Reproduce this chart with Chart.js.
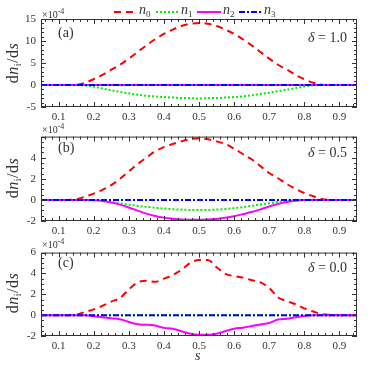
<!DOCTYPE html>
<html>
<head>
<meta charset="utf-8">
<script src="https://cdn.jsdelivr.net/npm/chart.js@4.4.1/dist/chart.umd.min.js"></script>
<style>
  body { margin: 0; background: #fff; }
  #wrap { position: relative; width: 374px; height: 365px; font-family: "Liberation Serif", "DejaVu Serif", serif; color: #333; }
  canvas { position: absolute; left: 0; }
  .lbl { position: absolute; white-space: nowrap; line-height: 1; }
  .it { font-style: italic; }
  .ytitle { position: absolute; white-space: nowrap; line-height: 1; font-size: 16px; letter-spacing: 0.5px; transform: translate(-50%, -50%) rotate(-90deg); }
  .tag { font-size: 14px; }
  .mult { font-size: 10px; }
  .mult sup { font-size: 8px; vertical-align: 4px; }
  sub { font-size: 9px; vertical-align: -3px; font-style: normal; }
  .ytitle sub { font-size: 10px; }
  .leg svg { position: absolute; }
</style>
</head>
<body>
<div id="wrap">
  <canvas id="panelA" width="374" height="125" style="top:0px"></canvas>
  <canvas id="panelB" width="374" height="116" style="top:125px"></canvas>
  <canvas id="panelC" width="374" height="124" style="top:241px"></canvas>

  <!-- legenda -->
  <div class="leg">
    <svg style="left:114px;top:9px" width="20" height="6"><line x1="0" y1="3" x2="20" y2="3" stroke="#ff0000" stroke-width="2" stroke-dasharray="7,5"/></svg>
    <div class="lbl it" style="left:139px;top:3px;font-size:14px">n<sub>0</sub></div>
    <svg style="left:156px;top:9px" width="23" height="6"><line x1="0" y1="3" x2="23" y2="3" stroke="#00ee00" stroke-width="2" stroke-dasharray="2,2"/></svg>
    <div class="lbl it" style="left:181px;top:3px;font-size:14px">n<sub>1</sub></div>
    <svg style="left:197px;top:9px" width="24" height="6"><line x1="0" y1="3" x2="24" y2="3" stroke="#ff00ff" stroke-width="2"/></svg>
    <div class="lbl it" style="left:223px;top:3px;font-size:14px">n<sub>2</sub></div>
    <svg style="left:239px;top:9px" width="24" height="6"><line x1="0" y1="3" x2="24" y2="3" stroke="#0000ff" stroke-width="2" stroke-dasharray="6,2,2,2"/></svg>
    <div class="lbl it" style="left:264px;top:3px;font-size:14px">n<sub>3</sub></div>
  </div>

  <!-- titulos eixo y -->
  <div class="ytitle" style="left:14px;top:63px">d<span class="it">n<sub>i</sub></span>/d<span class="it">s</span></div>
  <div class="ytitle" style="left:14px;top:178px">d<span class="it">n<sub>i</sub></span>/d<span class="it">s</span></div>
  <div class="ytitle" style="left:14px;top:293px">d<span class="it">n<sub>i</sub></span>/d<span class="it">s</span></div>

  <!-- multiplicador -->
  <div class="lbl mult" style="left:42px;top:8px">×10<sup>-4</sup></div>
  <div class="lbl mult" style="left:42px;top:123px">×10<sup>-4</sup></div>
  <div class="lbl mult" style="left:42px;top:238px">×10<sup>-4</sup></div>

  <!-- painel e delta -->
  <div class="lbl tag" style="left:58px;top:26px">(a)</div>
  <div class="lbl tag" style="left:58px;top:141px">(b)</div>
  <div class="lbl tag" style="left:58px;top:256px">(c)</div>
  <div class="lbl tag" style="right:27px;top:31px"><span class="it">δ</span> = 1.0</div>
  <div class="lbl tag" style="right:27px;top:146px"><span class="it">δ</span> = 0.5</div>
  <div class="lbl tag" style="right:27px;top:261px"><span class="it">δ</span> = 0.0</div>

  <div class="lbl it" style="left:195px;top:349px;font-size:14px">s</div>
</div>

<script>
// grade de s e ticks
const sGrid = [0.05, 0.075, 0.1, 0.125, 0.15, 0.175, 0.2, 0.225, 0.25, 0.275, 0.3, 0.325, 0.35, 0.375, 0.4, 0.425, 0.45, 0.475, 0.5,
  0.525, 0.55, 0.575, 0.6, 0.625, 0.65, 0.675, 0.7, 0.725, 0.75, 0.775, 0.8, 0.825, 0.85, 0.875, 0.9, 0.925, 0.95]
const sEnds = [0.05, 0.95]
const zeroLine = [0, 0]
const xTicks = [0.1, 0.2, 0.3, 0.4, 0.5, 0.6, 0.7, 0.8, 0.9]
const yTicksA = [-5, 0, 5, 10, 15]
const yTicksB = [-2, 0, 2, 4]
const yTicksC = [-2, 0, 2, 4, 6]

// (a) delta = 1.0, valores em 1e-4
const n0A = [0, 0, 0, 0, 0.05, 0.5, 1.3, 2.3, 3.5, 4.6, 6.0, 7.5, 9.0, 10.4, 11.6, 12.6, 13.4, 13.9, 14.1,
  13.9, 13.4, 12.6, 11.6, 10.4, 9.0, 7.5, 6.0, 4.6, 3.5, 2.3, 1.3, 0.5, 0.05, 0, 0, 0, 0]
const n1A = [0, 0, 0, 0, 0, -0.1, -0.4, -0.8, -1.2, -1.55, -1.9, -2.2, -2.45, -2.6, -2.75, -2.85, -2.95, -3.0, -3.05,
  -3.0, -2.95, -2.85, -2.75, -2.6, -2.35, -2.05, -1.75, -1.4, -1.1, -0.7, -0.35, -0.08, 0, 0, 0, 0, 0]

// (b) delta = 0.5
const n0B = [0, 0, 0, 0, 0.05, 0.3, 0.6, 0.95, 1.4, 2.0, 2.7, 3.4, 4.0, 4.6, 5.0, 5.3, 5.55, 5.75, 5.85,
  5.75, 5.55, 5.3, 4.85, 4.35, 3.85, 3.2, 2.55, 2.05, 1.5, 1.05, 0.65, 0.35, 0.08, 0, 0, 0, 0]
const n1B = [0, 0, 0, 0, 0, 0, 0, -0.05, -0.2, -0.33, -0.45, -0.57, -0.66, -0.74, -0.82, -0.88, -0.92, -0.95, -0.95,
  -0.95, -0.92, -0.87, -0.78, -0.68, -0.56, -0.43, -0.32, -0.2, -0.08, 0, 0, 0, 0, 0, 0, 0, 0]
const n2B = [0, 0, 0, 0, 0, 0, -0.03, -0.1, -0.25, -0.45, -0.72, -1.02, -1.3, -1.52, -1.68, -1.78, -1.85, -1.88, -1.88,
  -1.86, -1.8, -1.7, -1.55, -1.35, -1.15, -0.9, -0.62, -0.38, -0.2, -0.08, -0.02, 0, 0, 0, 0, 0, 0]

// (c) delta = 0.0
const n0C = [0, 0, 0, 0, 0.05, 0.3, 0.55, 0.9, 1.3, 1.65, 2.45, 3.15, 3.3, 3.2, 3.5, 3.85, 4.35, 5.0, 5.3,
  5.3, 4.6, 3.95, 3.75, 3.6, 3.35, 3.15, 2.6, 1.7, 1.35, 1.05, 0.65, 0.35, 0.1, 0.03, 0, 0, 0]
const n2C = [0, 0, 0, 0, 0, 0, -0.1, -0.2, -0.3, -0.4, -0.65, -0.88, -0.92, -1.0, -1.22, -1.3, -1.55, -1.78, -1.88,
  -1.88, -1.78, -1.55, -1.3, -1.2, -1.05, -0.9, -0.75, -0.42, -0.35, -0.2, -0.08, 0, 0, 0, 0, 0, 0]

const red = "#ff0000"
const green = "#00ee00"
const magenta = "#ff00ff"
const blue = "#0000ff"
const axisColor = "#333"
const tickFont = { family: "Liberation Serif", size: 11 }

document.addEventListener("DOMContentLoaded", function() {
  panelChart("panelA", 19, 18, -5, 15, yTicksA, 5, 1, [
    line(sGrid, n0A, red, [7, 5], 3),
    line(sGrid, n1A, green, [2, 2], 2),
    line(sEnds, zeroLine, magenta, [], 1),
    line(sEnds, zeroLine, blue, [6, 2, 2, 2], 0),
  ])
  panelChart("panelB", 9, 20, -2, 6, yTicksB, 2, 0.5, [
    line(sGrid, n0B, red, [7, 5], 3),
    line(sGrid, n1B, green, [2, 2], 2),
    line(sGrid, n2B, magenta, [], 1),
    line(sEnds, zeroLine, blue, [6, 2, 2, 2], 0),
  ])
  panelChart("panelC", 10, 29, -2, 6, yTicksC, 2, 0.5, [
    line(sGrid, n0C, red, [7, 5], 3),
    line(sEnds, zeroLine, green, [2, 2], 2),
    line(sGrid, n2C, magenta, [], 1),
    line(sEnds, zeroLine, blue, [6, 2, 2, 2], 0),
  ])
})

function line(xs, ys, color, dash, order) {
  return {
    data: xs.map((s, i) => ({ x: s, y: ys[i] })),
    borderColor: color,
    borderWidth: 2,
    borderDash: dash,
    pointRadius: 0,
    fill: false,
    cubicInterpolationMode: "monotone",
    order: order
  }
}

// moldura com ticks para dentro, nos quatro lados
const frameTicks = {
  id: "frameTicks",
  afterDraw(chart, args, opts) {
    const { ctx, chartArea: a, scales: { x, y } } = chart
    ctx.save()
    ctx.strokeStyle = axisColor
    ctx.lineWidth = 1
    ctx.strokeRect(a.left + 0.5, a.top + 0.5, a.right - a.left - 1, a.bottom - a.top - 1)
    ctx.beginPath()
    const isMajor = (v, step) => Math.abs(v / step - Math.round(v / step)) < 1e-6
    for (let k = Math.ceil(x.min / 0.02 - 1e-9); k * 0.02 <= x.max + 1e-9; k++) {
      const v = k * 0.02
      const len = isMajor(v, 0.1) ? 5 : 3
      const p = Math.round(x.getPixelForValue(v)) + 0.5
      ctx.moveTo(p, a.bottom); ctx.lineTo(p, a.bottom - len)
      ctx.moveTo(p, a.top); ctx.lineTo(p, a.top + len)
    }
    for (let k = Math.ceil(y.min / opts.minor - 1e-9); k * opts.minor <= y.max + 1e-9; k++) {
      const v = k * opts.minor
      const len = isMajor(v, opts.major) ? 5 : 3
      const p = Math.round(y.getPixelForValue(v)) + 0.5
      ctx.moveTo(a.left, p); ctx.lineTo(a.left + len, p)
      ctx.moveTo(a.right, p); ctx.lineTo(a.right - len, p)
    }
    ctx.stroke()
    ctx.restore()
  }
}

function panelChart(id, padTop, xAxisH, yMin, yMax, yTicks, major, minor, datasets) {
  const config = {
    type: "line",
    data: { datasets: datasets },
    options: {
      responsive: false,
      animation: false,
      layout: { padding: { left: 0, right: 17, top: padTop, bottom: 0 } },
      plugins: {
        legend: { display: false },
        tooltip: { enabled: false },
        frameTicks: { major: major, minor: minor }
      },
      scales: {
        x: {
          type: "linear",
          min: 0.05,
          max: 0.95,
          grid: { display: false, drawTicks: false },
          border: { display: false },
          ticks: { font: tickFont, color: axisColor, padding: 4, maxRotation: 0, autoSkip: false, callback: v => v.toFixed(1) },
          afterBuildTicks: s => { s.ticks = xTicks.map(v => ({ value: v })) },
          afterFit: s => { s.height = xAxisH }
        },
        y: {
          min: yMin,
          max: yMax,
          grid: { display: false, drawTicks: false },
          border: { display: false },
          ticks: { font: tickFont, color: axisColor, padding: 5, autoSkip: false },
          afterBuildTicks: s => { s.ticks = yTicks.map(v => ({ value: v })) },
          afterFit: s => { s.width = 41 }
        }
      }
    },
    plugins: [frameTicks]
  }
  new Chart(document.getElementById(id), config)
}
</script>
</body>
</html>
